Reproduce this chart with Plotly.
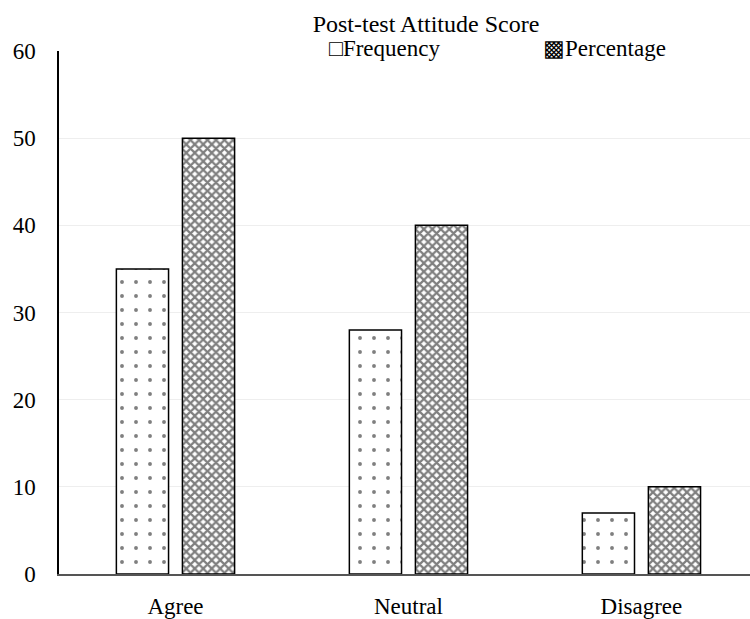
import plotly.graph_objects as go

categories = ["Agree", "Neutral", "Disagree"]
frequency = [35, 28, 7]
percentage = [50, 40, 10]
y_ticks = [0, 10, 20, 30, 40, 50, 60]

FONT = "Liberation Serif"
W, H = 750, 619
L, R, T, B = 59, 0, 51, 40

fig = go.Figure()
fig.add_trace(go.Bar(
    x=categories, y=frequency, name="Frequency",
    marker=dict(color="white", line=dict(color="black", width=1.5),
                pattern=dict(shape=".", size=14, solidity=0.06,
                             fgcolor="black", bgcolor="white", fillmode="overlay")),
    showlegend=False,
))
fig.add_trace(go.Bar(
    x=categories, y=percentage, name="Percentage",
    marker=dict(color="white", line=dict(color="black", width=1.5),
                pattern=dict(shape="x", size=6, solidity=0.6,
                             fgcolor="black", bgcolor="white", fillmode="overlay")),
    showlegend=False,
))

def px_to_paper_x(px):
    return (px - L) / (W - L - R)

def px_to_paper_y(py):
    return (H - B - py) / (H - T - B)

# legend entries drawn as text labels
legend_items = [("\u25a1Frequency", 327), ("\u25a9Percentage", 541)]
for text, px in legend_items:
    fig.add_annotation(
        text=text, x=px_to_paper_x(px), y=px_to_paper_y(48),
        xref="paper", yref="paper", xanchor="left", yanchor="middle",
        showarrow=False, font=dict(family=FONT, size=23, color="black"),
    )

fig.update_layout(
    width=W, height=H,
    margin=dict(l=L, r=R, t=T, b=B, pad=0),
    paper_bgcolor="white", plot_bgcolor="white",
    barmode="group", bargap=0.433, bargroupgap=0.21,
    title=dict(text="Post-test Attitude Score", x=426 / W, xanchor="center",
               y=1 - 24 / H, yanchor="middle", yref="container",
               font=dict(family=FONT, size=24, color="black")),
    font=dict(family=FONT, size=23, color="black"),
    showlegend=False,
)
fig.update_xaxes(
    range=[-0.5, 2.466], showgrid=False, showline=True, linecolor="#555555",
    linewidth=1.5, ticks="", ticklabelstandoff=11, zeroline=False,
    tickfont=dict(family=FONT, size=23, color="black"),
)
fig.update_yaxes(
    range=[0, 60], tickvals=y_ticks, showgrid=True, gridcolor="#eeeeee",
    gridwidth=1, showline=True, linecolor="black", linewidth=1.5,
    ticks="", ticklabelstandoff=17, zeroline=False,
    tickfont=dict(family=FONT, size=23, color="black"),
)

fig.write_html("out.html")
